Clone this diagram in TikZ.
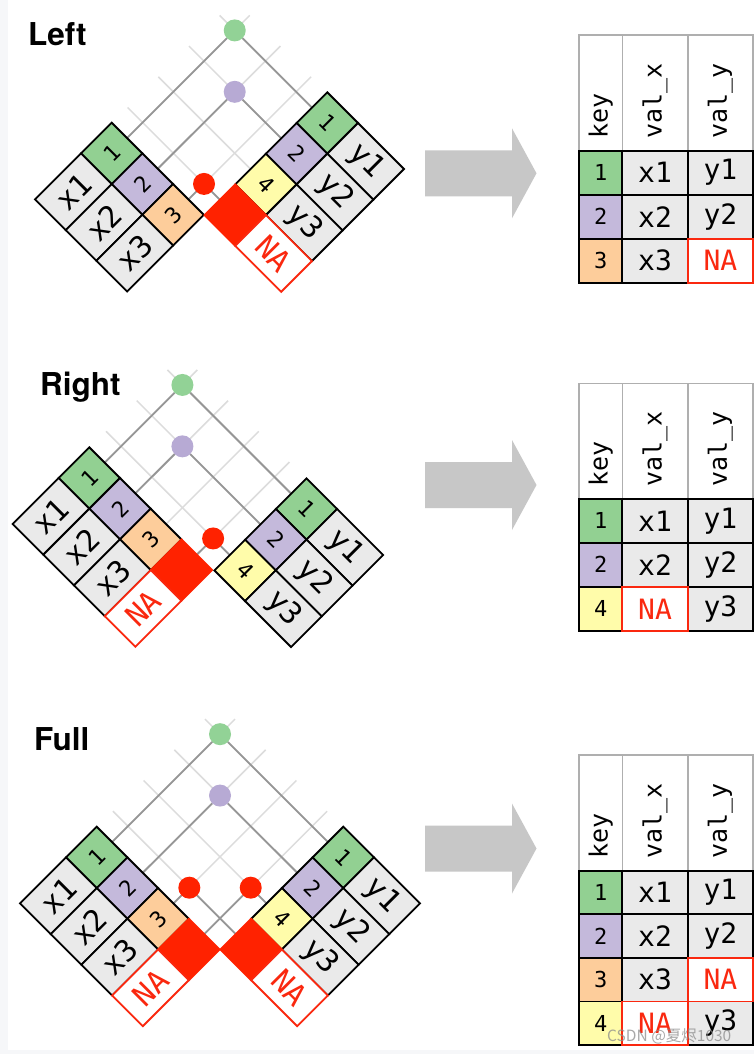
\documentclass[tikz,border=0pt]{standalone}
\usepackage{fontspec}
\setmainfont{DejaVu Sans Mono}
\newfontfamily\ttlfont{TeX Gyre Heros}
\newfontfamily\wmfont{Noto Sans CJK SC}
\usetikzlibrary{calc}
\pgfdeclarelayer{bgl}
\pgfdeclarelayer{lines}
\pgfsetlayers{bgl,lines,main}
\definecolor{kgreen}{RGB}{146,208,146}
\definecolor{kpurple}{RGB}{196,185,219}
\definecolor{korange}{RGB}{253,205,155}
\definecolor{kyellow}{RGB}{255,252,170}
\definecolor{cgray}{RGB}{234,234,234}
\definecolor{nred}{RGB}{255,34,0}
\definecolor{tred}{RGB}{250,40,15}
\definecolor{dotgreen}{RGB}{146,210,150}
\definecolor{dotpurple}{RGB}{183,170,212}
\definecolor{lgray}{RGB}{220,220,220}
\definecolor{dgray}{RGB}{150,150,150}
\definecolor{hgray}{RGB}{175,175,175}
\definecolor{agray}{RGB}{199,199,199}
\definecolor{bgstrip}{RGB}{246,247,249}
\def\ka{30.7}
\def\kb{46}
\def\mrg{30}
\def\rh{44}
\pgfmathsetmacro\ks{\ka*sqrt(2)}
\pgfmathsetmacro\vs{\kb*sqrt(2)}
\tikzset{
  kc/.style={draw=black, line width=1.8pt, inner sep=0pt, outer sep=0pt,
    minimum width=\ks pt, minimum height=\ks pt, font=\fontsize{22}{22}\selectfont},
  vc/.style={draw=black, line width=1.8pt, inner sep=0pt, outer sep=0pt, fill=cgray,
    minimum width=\vs pt, minimum height=\ks pt, font=\fontsize{30}{30}\selectfont},
  nakey/.style={fill=nred, draw=nred},
  naval/.style={fill=white, draw=tred, text=tred},
  litel/.style={draw=lgray, line width=1.5pt},
  darkl/.style={draw=dgray, line width=1.8pt},
  jdot/.style={circle, inner sep=0pt, outer sep=0pt, minimum size=22pt},
  ttl/.style={anchor=base west, inner sep=0pt, font=\ttlfont\bfseries\fontsize{31.5}{31.5}\selectfont},
  hcell/.style={draw=hgray, line width=1.6pt, inner sep=0pt, outer sep=0pt, rotate=90,
    minimum width=115.5pt, text width=91.5pt, align=left, font=\fontsize{25}{25}\selectfont},
  rcell/.style={draw=black, line width=1.8pt, inner sep=0pt, outer sep=0pt, anchor=north west,
    minimum height=\rh pt, fill=cgray, font=\fontsize{28}{28}\selectfont},
  naout/.style={draw=tred, line width=1.8pt},
  wm/.style={anchor=base west, inner sep=0pt, font=\wmfont\fontsize{15.5}{15.5}\selectfont, text=black!45, opacity=0.75}
}
\newcommand\setpanel[4]{%
  \def\TLx{#1}\def\TLy{#2}\def\TRx{#3}\def\TRy{#4}%
  \pgfmathsetmacro\lenL{(#3-#4-#1+#2-\ka+\mrg)/2}%
  \pgfmathsetmacro\lenR{(#3+#4-#1-#2-\ka+\mrg)/2}%
}
\newcommand\Lrow[6]{%
  \coordinate (#1L#2) at ({\ka*(#2+0.5)},0);
  \coordinate (#1L#2e) at ({\ka*(#2+0.5)},{-\lenL});
  \node[kc,#3,rotate=45] (#1Lk#2) at ({\ka*(#2+0.5)},{\ka/2}) {#4};
  \node[vc,#5,rotate=45] (#1Lv#2) at ({\ka*(#2+0.5)},{\ka+\kb/2}) {#6};
}
\newcommand\Rrow[6]{%
  \coordinate (#1R#2) at ({\ka*(#2+0.5)},0);
  \coordinate (#1R#2e) at ({\ka*(#2+0.5)},{-\lenR});
  \node[kc,#3,rotate=-45] (#1Rk#2) at ({\ka*(#2+0.5)},{\ka/2}) {#4};
  \node[vc,#5,rotate=-45] (#1Rv#2) at ({\ka*(#2+0.5)},{\ka+\kb/2}) {#6};
}
\newcommand\hdr[2]{%
  \node[hcell,minimum height=43.3pt] (#1h0) at (600.65,#2+57.75) {key};
  \node[hcell,minimum height=65.4pt] (#1h1) at (655,#2+57.75) {val\_x};
  \node[hcell,minimum height=65.3pt] (#1h2) at (720.35,#2+57.75) {val\_y};
}
\newcommand\rrow[9]{%
  \node[rcell,minimum width=43.3pt,fill=#4,font=\fontsize{22}{22}\selectfont] (#1k#2) at (579,#3) {#5};
  \node[rcell,minimum width=65.4pt,#6] (#1x#2) at (622.3,#3) {#7};
  \node[rcell,minimum width=65.3pt,#8] (#1y#2) at (687.7,#3) {#9};
}
\newcommand\bigarrow[1]{%
  \fill[agray] (425,#1-23) -- (512,#1-23) -- (512,#1-45) -- (536.5,#1) -- (512,#1+45)
    -- (512,#1+23) -- (425,#1+23) -- cycle;
}
\begin{document}
\begin{tikzpicture}[x=1pt,y=-1pt]
\begin{pgfonlayer}{bgl}
  \fill[bgstrip] (0,0) rectangle (754,1054);
  \fill[white] (8.3,0) rectangle (754,1050);
\end{pgfonlayer}
\useasboundingbox (0,0) rectangle (754,1054);

% ---------------- Panel 1: Left ----------------
\node[ttl] (t1) at (28,46) {Left};
\setpanel{111.7}{122.7}{327.3}{92.3}
\begin{scope}[shift={(\TLx pt,-\TLy pt)},x={(1pt,-1pt)},y={(-1pt,-1pt)}]
  \Lrow{a}{0}{fill=kgreen}{1}{}{x1}
  \Lrow{a}{1}{fill=kpurple}{2}{}{x2}
  \Lrow{a}{2}{fill=korange}{3}{}{x3}
\end{scope}
\begin{scope}[shift={(\TRx pt,-\TRy pt)},x={(-1pt,-1pt)},y={(1pt,-1pt)}]
  \Rrow{a}{0}{fill=kgreen}{1}{}{y1}
  \Rrow{a}{1}{fill=kpurple}{2}{}{y2}
  \Rrow{a}{2}{fill=kyellow}{4}{}{y3}
  \Rrow{a}{3}{nakey}{}{naval}{NA}
\end{scope}
\node[jdot,fill=dotgreen] (adg) at (intersection of aL0--aL0e and aR0--aR0e) {};
\node[jdot,fill=dotpurple] (adp) at (intersection of aL1--aL1e and aR1--aR1e) {};
\node[jdot,fill=nred] (adr) at (intersection of aL2--aL2e and aR3--aR3e) {};
\begin{pgfonlayer}{lines}
  \foreach \i in {0,1,2} \draw[litel] (aL\i) -- (aL\i e);
  \foreach \i in {0,1,2,3} \draw[litel] (aR\i) -- (aR\i e);
  \draw[darkl] (aL0) -- (adg) -- (aR0);
  \draw[darkl] (aL1) -- (adp) -- (aR1);
  \draw[darkl] (aL2) -- (adr) -- (aR3);
\end{pgfonlayer}
\bigarrow{173.3}
\hdr{ra}{35.2}
\rrow{ra}{0}{150.7}{kgreen}{1}{}{x1}{}{y1}
\rrow{ra}{1}{194.7}{kpurple}{2}{}{x2}{}{y2}
\rrow{ra}{2}{238.7}{korange}{3}{}{x3}{naval}{NA}
\draw[naout] (ray2.north west) rectangle (ray2.south east);

% ---------------- Panel 2: Right ----------------
\node[ttl] (t2) at (40,395) {Right};
\setpanel{89.3}{447.3}{306.5}{478.3}
\begin{scope}[shift={(\TLx pt,-\TLy pt)},x={(1pt,-1pt)},y={(-1pt,-1pt)}]
  \Lrow{b}{0}{fill=kgreen}{1}{}{x1}
  \Lrow{b}{1}{fill=kpurple}{2}{}{x2}
  \Lrow{b}{2}{fill=korange}{3}{}{x3}
  \Lrow{b}{3}{nakey}{}{naval}{NA}
\end{scope}
\begin{scope}[shift={(\TRx pt,-\TRy pt)},x={(-1pt,-1pt)},y={(1pt,-1pt)}]
  \Rrow{b}{0}{fill=kgreen}{1}{}{y1}
  \Rrow{b}{1}{fill=kpurple}{2}{}{y2}
  \Rrow{b}{2}{fill=kyellow}{4}{}{y3}
\end{scope}
\node[jdot,fill=dotgreen] (bdg) at (intersection of bL0--bL0e and bR0--bR0e) {};
\node[jdot,fill=dotpurple] (bdp) at (intersection of bL1--bL1e and bR1--bR1e) {};
\node[jdot,fill=nred] (bdr) at (intersection of bL3--bL3e and bR2--bR2e) {};
\begin{pgfonlayer}{lines}
  \foreach \i in {0,1,2,3} \draw[litel] (bL\i) -- (bL\i e);
  \foreach \i in {0,1,2} \draw[litel] (bR\i) -- (bR\i e);
  \draw[darkl] (bL0) -- (bdg) -- (bR0);
  \draw[darkl] (bL1) -- (bdp) -- (bR1);
  \draw[darkl] (bL3) -- (bdr) -- (bR2);
\end{pgfonlayer}
\bigarrow{485}
\hdr{rb}{383.3}
\rrow{rb}{0}{498.8}{kgreen}{1}{}{x1}{}{y1}
\rrow{rb}{1}{542.8}{kpurple}{2}{}{x2}{}{y2}
\rrow{rb}{2}{586.8}{kyellow}{4}{naval}{NA}{}{y3}
\draw[naout] (rbx2.north west) rectangle (rbx2.south east);

% ---------------- Panel 3: Full ----------------
\node[ttl] (t3) at (34,750) {Full};
\setpanel{96.7}{826.7}{343.3}{826.7}
\begin{scope}[shift={(\TLx pt,-\TLy pt)},x={(1pt,-1pt)},y={(-1pt,-1pt)}]
  \Lrow{c}{0}{fill=kgreen}{1}{}{x1}
  \Lrow{c}{1}{fill=kpurple}{2}{}{x2}
  \Lrow{c}{2}{fill=korange}{3}{}{x3}
  \Lrow{c}{3}{nakey}{}{naval}{NA}
\end{scope}
\begin{scope}[shift={(\TRx pt,-\TRy pt)},x={(-1pt,-1pt)},y={(1pt,-1pt)}]
  \Rrow{c}{0}{fill=kgreen}{1}{}{y1}
  \Rrow{c}{1}{fill=kpurple}{2}{}{y2}
  \Rrow{c}{2}{fill=kyellow}{4}{}{y3}
  \Rrow{c}{3}{nakey}{}{naval}{NA}
\end{scope}
\node[jdot,fill=dotgreen] (cdg) at (intersection of cL0--cL0e and cR0--cR0e) {};
\node[jdot,fill=dotpurple] (cdp) at (intersection of cL1--cL1e and cR1--cR1e) {};
\node[jdot,fill=nred] (cdr1) at (intersection of cL2--cL2e and cR3--cR3e) {};
\node[jdot,fill=nred] (cdr2) at (intersection of cL3--cL3e and cR2--cR2e) {};
\begin{pgfonlayer}{lines}
  \foreach \i in {0,1,2,3} \draw[litel] (cL\i) -- (cL\i e);
  \foreach \i in {0,1,2,3} \draw[litel] (cR\i) -- (cR\i e);
  \draw[darkl] (cL0) -- (cdg) -- (cR0);
  \draw[darkl] (cL1) -- (cdp) -- (cR1);
  \draw[darkl] (cL2) -- (cdr1) -- (cR3);
  \draw[darkl] (cL3) -- (cdr2) -- (cR2);
\end{pgfonlayer}
\bigarrow{848.5}
\hdr{rc}{755.2}
\def\rh{43.6}
\rrow{rc}{0}{870.7}{kgreen}{1}{}{x1}{}{y1}
\rrow{rc}{1}{914.3}{kpurple}{2}{}{x2}{}{y2}
\rrow{rc}{2}{957.9}{korange}{3}{}{x3}{naval}{NA}
\rrow{rc}{3}{1001.5}{kyellow}{4}{naval}{NA}{}{y3}
\draw[naout] (rcy2.north west) rectangle (rcy2.south east);
\draw[naout] (rcx3.north west) rectangle (rcx3.south east);

\node[wm] (wmk) at (607,1041) {CSDN @夏烬1030};
\end{tikzpicture}
\end{document}
